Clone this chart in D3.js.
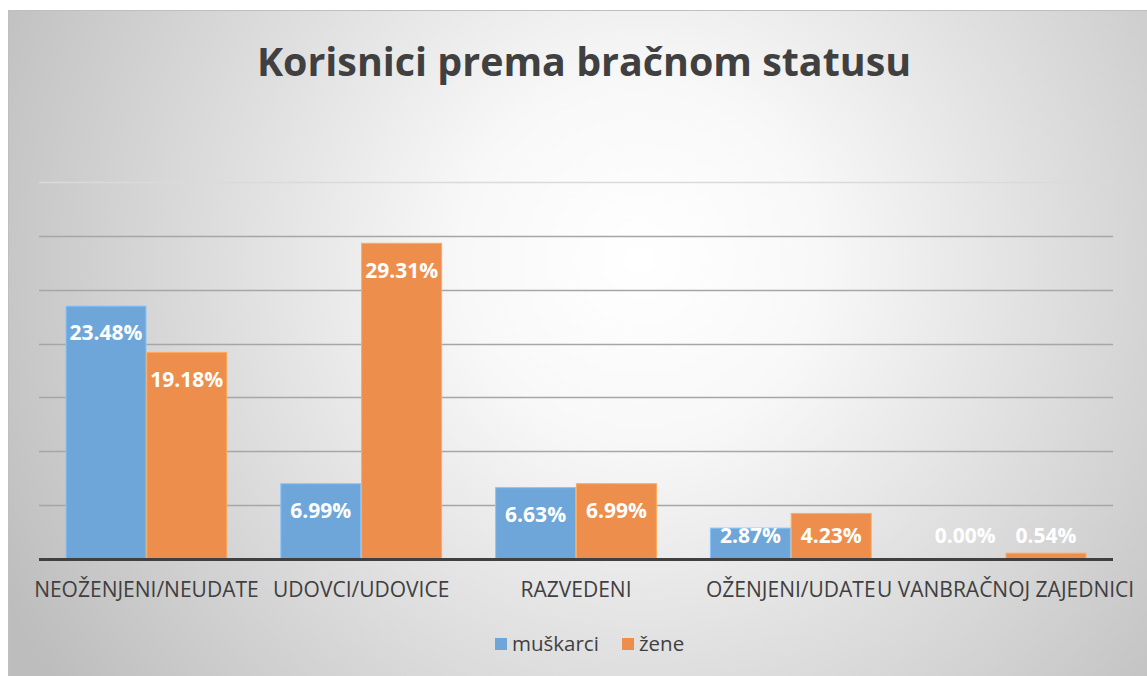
<!DOCTYPE html>
<html>
<head>
<meta charset="utf-8">
<script src="https://cdnjs.cloudflare.com/ajax/libs/d3/7.8.5/d3.min.js"></script>
<style>
  body { margin: 0; background: #fff; }
  svg { display: block; font-family: "Open Sans", "Liberation Sans", sans-serif; }
</style>
</head>
<body>
<div class="figure"></div>
<script>
let categories = ["NEOŽENJENI/NEUDATE", "UDOVCI/UDOVICE", "RAZVEDENI", "OŽENJENI/UDATE", "U VANBRAČNOJ ZAJEDNICI"]
let series = ["muškarci", "žene"]
let muskarci = [23.48, 6.99, 6.63, 2.87, 0.00]
let zene = [19.18, 29.31, 6.99, 4.23, 0.54]
let yTicks = [0, 5, 10, 15, 20, 25, 30, 35]
let colors = ["#6fa6d9", "#ee8e4c"]

let width = 1147
let height = 676

const svg = d3.select(".figure").append("svg")
    .attr("width", width)
    .attr("height", height)

let defs = svg.append("defs")
let grad = defs.append("radialGradient")
    .attr("id", "bg")
    .attr("gradientUnits", "userSpaceOnUse")
    .attr("cx", 640).attr("cy", 260).attr("r", 720)
grad.append("stop").attr("offset", "0").attr("stop-color", "#ffffff")
grad.append("stop").attr("offset", "0.25").attr("stop-color", "#f8f8f8")
grad.append("stop").attr("offset", "1").attr("stop-color", "#bdbdbd")

// chart frame
svg.append("rect")
    .attr("x", 8.5).attr("y", 10.5)
    .attr("width", width - 8).attr("height", height - 10)
    .attr("fill", "url(#bg)")
    .attr("stroke", "#bfbfbf")

svg.append("text")
    .attr("x", 584).attr("y", 76)
    .attr("text-anchor", "middle")
    .attr("fill", "#404040")
    .style("font-size", "39.4px")
    .style("font-weight", "bold")
    .text("Korisnici prema bračnom statusu")

let plot = {left: 39, right: 1113, top: 182, bottom: 559}

let x = d3.scaleBand().domain(categories).range([plot.left, plot.right]).paddingInner(0).paddingOuter(0)
let x1 = d3.scaleBand().domain(series).range([27, x.bandwidth() - 27]).paddingInner(0.01)
let y = d3.scaleLinear().domain([0, 35]).range([plot.bottom, plot.top])

svg.append("g")
    .selectAll("line")
    .data(yTicks.slice(1))
    .join("line")
    .attr("x1", plot.left).attr("x2", plot.right)
    .attr("y1", d => Math.round(y(d)) + 0.5).attr("y2", d => Math.round(y(d)) + 0.5)
    .attr("stroke", d => d === 35 ? "#dadada" : "#a6a6a6")
    .attr("stroke-width", 1.5)

let rows = categories.map((c, i) => ({cat: c, values: [muskarci[i], zene[i]]}))

let groups = svg.append("g")
    .selectAll("g")
    .data(rows)
    .join("g")
    .attr("transform", d => `translate(${x(d.cat)},0)`)

groups.selectAll("rect")
    .data(d => d.values.map((v, j) => ({s: series[j], v: v, j: j})))
    .join("rect")
    .attr("x", d => x1(d.s))
    .attr("y", d => y(d.v))
    .attr("width", x1.bandwidth())
    .attr("height", d => y(0) - y(d.v))
    .attr("fill", d => colors[d.j])
    .attr("stroke", d => d.v > 0 ? d3.color(colors[d.j]).brighter(0.5) : "none")
    .attr("stroke-width", 1)

groups.selectAll("text")
    .data(d => d.values.map((v, j) => ({s: series[j], v: v, j: j})))
    .join("text")
    .attr("x", d => x1(d.s) + x1.bandwidth() / 2)
    .attr("y", d => Math.min(y(d.v) + 27, 536))
    .attr("dy", "0.35em")
    .attr("text-anchor", "middle")
    .attr("fill", "#ffffff")
    .style("font-size", "21px")
    .style("font-weight", "bold")
    .text(d => d.v.toFixed(2) + "%")

// axis line
svg.append("line")
    .attr("x1", plot.left).attr("x2", plot.right)
    .attr("y1", plot.bottom + 0.5).attr("y2", plot.bottom + 0.5)
    .attr("stroke", "#404040")
    .attr("stroke-width", 3)

svg.append("g")
    .selectAll("text")
    .data(categories)
    .join("text")
    .attr("x", d => x(d) + x.bandwidth() / 2)
    .attr("y", 597)
    .attr("text-anchor", "middle")
    .attr("fill", "#404040")
    .style("font-size", "21px")
    .text(d => d)

let legend = svg.append("g")
let legendX = [495, 622]
series.forEach((s, i) => {
  legend.append("rect")
      .attr("x", legendX[i]).attr("y", 638)
      .attr("width", 12).attr("height", 12)
      .attr("fill", colors[i])
  legend.append("text")
      .attr("x", legendX[i] + 17).attr("y", 651)
      .attr("fill", "#404040")
      .style("font-size", "20.5px")
      .text(s)
})
</script>
</body>
</html>
